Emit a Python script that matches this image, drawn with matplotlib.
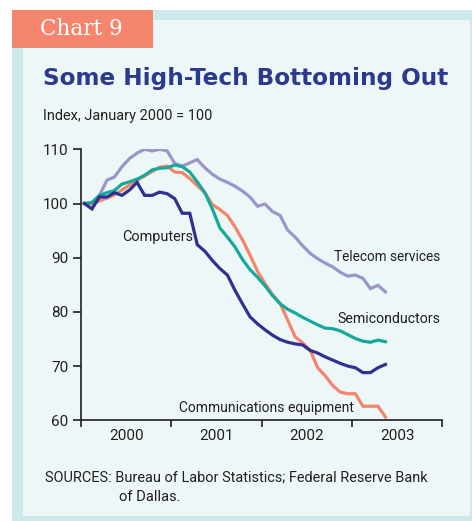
import matplotlib
matplotlib.use("Agg")
import numpy as np
import matplotlib.pyplot as plt
from matplotlib.patches import Rectangle

# monthly index values, Jan 2000 = 100 (Jan 2000 .. May 2003)
computers = [100, 99, 101.2, 101.2, 102, 101.5, 102.5, 103.9, 101.5, 101.5,
             102.1, 101.8, 100.9, 98.2, 98.2, 92.4, 91.2, 89.5, 88, 86.8,
             84, 81.5, 79.1, 77.8, 76.7, 75.7, 74.9, 74.4, 74.1, 73.9,
             72.9, 72.4, 71.7, 71.1, 70.5, 70, 69.7, 68.8, 68.8, 69.7, 70.3]
telecom = [100, 100, 101.5, 104.3, 104.9, 106.8, 108.3, 109.3, 110, 109.7,
           110, 109.7, 107.4, 106.9, 107.5, 108.1, 106.6, 105.4, 104.5, 103.9,
           103.2, 102.3, 101.2, 99.5, 99.9, 98.5, 97.8, 95.1, 93.8, 92.2,
           90.8, 89.8, 89, 88.3, 87.3, 86.6, 86.8, 86.2, 84.3, 84.9, 83.7]
semis = [100, 100.2, 101.5, 102, 102.4, 103.6, 104, 104.5, 105.2, 106.2,
         106.5, 106.6, 107.1, 106.8, 105.8, 104, 102, 99, 95.5, 93.8,
         92, 89.7, 87.8, 86.4, 84.8, 83, 81.5, 80.5, 79.8, 79,
         78.3, 77.6, 77, 76.9, 76.5, 75.8, 75.1, 74.6, 74.4, 74.8, 74.5]
comm_equip = [100, 99.9, 100.5, 101, 101.6, 102.5, 103.4, 104.3, 105.1, 105.9,
              106.7, 106.9, 105.8, 105.7, 104.6, 103.3, 102, 99.8, 98.9, 97.8,
              95.7, 93.3, 90.5, 87.5, 85.2, 83.2, 81.6, 78.5, 75.4, 74.3,
              72.9, 69.7, 68.2, 66.4, 65.2, 64.9, 64.9, 62.6, 62.6, 62.6, 60.6]
years = [2000, 2001, 2002, 2003]
yticks = [60, 70, 80, 90, 100, 110]

W, H = 472, 521
NAVY = "#2e3192"
LAV = "#9c95cb"
TEAL = "#14a99b"
SALMON = "#f4846b"
TXT = "#231f20"
SANS = "Roboto"

fig = plt.figure(figsize=(W / 100, H / 100), dpi=100)
fig.patch.set_facecolor("white")
renderer = fig.canvas.get_renderer()


def px(x, y, w, h):
    # rectangle given in pixel coords (top-left origin)
    return (x / W, 1 - (y + h) / H), w / W, h / H


def fit(t, width):
    # rescale a text so its drawn width is about `width` pixels
    w = t.get_window_extent(renderer).width
    t.set_fontsize(t.get_fontsize() * width / w)
    return t


for (x, y, w, h), c in [((12, 10, 460, 511), "#cde9ea"),
                        ((23, 20, 447, 496), "#eef7f7"),
                        ((12, 10, 141, 38), "#f5866d")]:
    xy, ww, hh = px(x, y, w, h)
    fig.patches.append(Rectangle(xy, ww, hh, transform=fig.transFigure,
                                 facecolor=c, edgecolor="none", zorder=-5))

fit(fig.text(40 / W, 1 - 29 / H, "Chart 9", color="white", fontsize=15,
             family="DejaVu Serif", va="center", ha="left"), 83)
fit(fig.text(43 / W, 1 - 79 / H, "Some High-Tech Bottoming Out", color="#2b3a8f",
             fontsize=16.7, fontweight="bold", va="center", ha="left"), 404)
fit(fig.text(43 / W, 1 - 116 / H, "Index, January 2000 = 100", color=TXT,
             fontsize=10, family=SANS, va="center", ha="left"), 169)
fit(fig.text(45 / W, 1 - 478 / H,
             "SOURCES: Bureau of Labor Statistics; Federal Reserve Bank",
             color=TXT, fontsize=10, family=SANS, va="center", ha="left"), 382)
fig.text(119 / W, 1 - 497 / H, "of Dallas.", color=TXT, fontsize=10.6,
         family=SANS, va="center", ha="left")

ax = fig.add_axes([81 / W, 1 - 420.3 / H, (442.3 - 81) / W, (420.3 - 149.3) / H])
ax.set_facecolor("none")

x = 2000 + (np.arange(len(computers)) + 0.45) / 12
ax.plot(x, telecom, color=LAV, lw=2.3, solid_joinstyle="miter")
ax.plot(x, comm_equip, color=SALMON, lw=2.3, solid_joinstyle="miter")
ax.plot(x, semis, color=TEAL, lw=2.3, solid_joinstyle="miter")
ax.plot(x, computers, color=NAVY, lw=2.3, solid_joinstyle="miter")

ax.set_xlim(2000, 2004)
ax.set_ylim(60, 110)
ax.set_yticks(yticks)
ax.set_yticklabels([str(v) for v in yticks], family=SANS, fontsize=11, color=TXT)
ax.set_xticks([2000, 2001, 2002, 2003, 2004])
ax.set_xticklabels([])
ax.set_xticks([y + 0.5 for y in years], minor=True)
ax.set_xticklabels([str(y) for y in years], minor=True, family=SANS,
                   fontsize=11, color=TXT)
ax.tick_params(axis="x", which="minor", length=0, pad=6)
ax.tick_params(axis="x", which="major", direction="out", length=5, width=1.2, color=TXT)
ax.tick_params(axis="y", direction="out", length=6, width=1.2, color=TXT, pad=3)
for s in ["top", "right"]:
    ax.spines[s].set_visible(False)
for s in ["left", "bottom"]:
    ax.spines[s].set_linewidth(1.2)
    ax.spines[s].set_color(TXT)

lab = dict(family=SANS, fontsize=10.5, color=TXT, va="center", ha="left")
fit(ax.text(2000.45, 93.9, "Computers", **lab), 71)
fit(ax.text(2002.8, 90.2, "Telecom services", **lab), 107)
fit(ax.text(2002.84, 78.7, "Semiconductors", **lab), 103)
fit(ax.text(2001.085, 62.2, "Communications equipment", **lab), 176)

fig.savefig("out.png", dpi=100, facecolor=fig.get_facecolor())
